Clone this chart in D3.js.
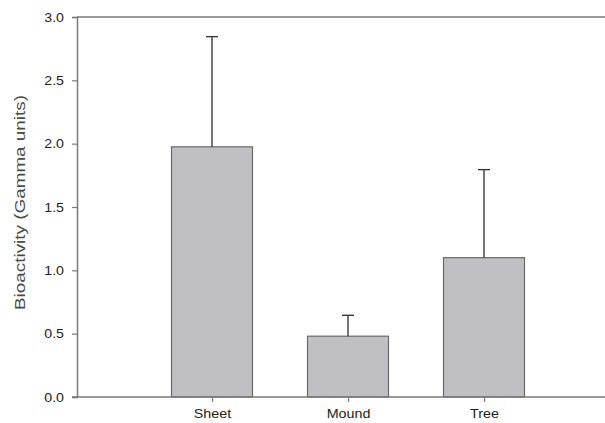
<!DOCTYPE html>
<html>
<head>
<meta charset="utf-8">
<script src="https://cdn.jsdelivr.net/npm/d3@7"></script>
<style>
  html, body { margin: 0; padding: 0; background: #fff; }
  svg { display: block; }
  text { font-family: "Liberation Sans", Arial, sans-serif; }
</style>
</head>
<body>
<svg id="chart" width="605" height="423"></svg>
<script>
// Mean bioactivity per colony type, with upper error (mean + SD)
const categories = ["Sheet", "Mound", "Tree"];
const means = [1.975, 0.48, 1.10];
const errorTops = [2.845, 0.645, 1.795];
const yTicks = [0.0, 0.5, 1.0, 1.5, 2.0, 2.5, 3.0];

const W = 605, H = 423;
const plotLeft = 77, plotTop = 17, plotBottom = 397;

const svg = d3.select("#chart");

// categories sit at positions 1..3 on a linear axis
const x = d3.scaleLinear().domain([0, 1]).range([76, 212]);
const y = d3.scaleLinear().domain([0, 3]).range([plotBottom, plotTop]);
const barW = 81;

const axisColor = "#7a7a7a";

// widen glyph runs slightly, like the wide sans used for the labels
function widen(sel, k) {
  sel.each(function () {
    const len = this.getComputedTextLength();
    d3.select(this).attr("textLength", len * k).attr("lengthAdjust", "spacingAndGlyphs");
  });
}

// bars
svg.append("g").selectAll("rect")
  .data(categories)
  .join("rect")
  .attr("x", (d, i) => x(i + 1) - barW / 2)
  .attr("y", (d, i) => y(means[i]))
  .attr("width", barW)
  .attr("height", (d, i) => y(0) - y(means[i]))
  .attr("fill", "#c0c0c4")
  .attr("stroke", "#6a6a6a")
  .attr("stroke-width", 1.2);

// error bars (upper only)
const eb = svg.append("g").attr("stroke", "#3a3a3a").attr("stroke-width", 1.4);
eb.selectAll("line.stem")
  .data(categories)
  .join("line")
  .attr("class", "stem")
  .attr("x1", (d, i) => x(i + 1)).attr("x2", (d, i) => x(i + 1))
  .attr("y1", (d, i) => y(means[i])).attr("y2", (d, i) => y(errorTops[i]));
eb.selectAll("line.cap")
  .data(categories)
  .join("line")
  .attr("class", "cap")
  .attr("x1", (d, i) => x(i + 1) - 6).attr("x2", (d, i) => x(i + 1) + 6)
  .attr("y1", (d, i) => y(errorTops[i])).attr("y2", (d, i) => y(errorTops[i]));

// top frame line runs to the edge
svg.append("line")
  .attr("x1", plotLeft).attr("x2", W).attr("y1", y(3)).attr("y2", y(3))
  .attr("stroke", axisColor).attr("stroke-width", 1.5);

// y axis
const yAxis = d3.axisLeft(y).tickValues(yTicks).tickFormat(d3.format(".1f")).tickSize(5).tickPadding(8);
const gy = svg.append("g").attr("transform", `translate(${plotLeft},0)`).call(yAxis);
gy.select(".domain").attr("stroke", axisColor).attr("stroke-width", 1.5);
gy.selectAll(".tick line").attr("stroke", axisColor).attr("stroke-width", 1.2);
gy.selectAll(".tick text").attr("font-size", 13.5).attr("fill", "#222").call(widen, 1.05);

// x axis
const xAxis = d3.axisBottom(x).tickValues([1, 2, 3]).tickFormat(d => categories[d - 1]).tickSize(5).tickPadding(7);
const gx = svg.append("g").attr("transform", `translate(0,${plotBottom})`).call(xAxis);
gx.select(".domain").remove();
gx.append("line").attr("x1", plotLeft - 5).attr("x2", W).attr("y1", 0).attr("y2", 0)
  .attr("stroke", axisColor).attr("stroke-width", 1.5);
gx.selectAll(".tick line").attr("stroke", axisColor).attr("stroke-width", 1.2);
gx.selectAll(".tick text").attr("font-size", 13).attr("fill", "#222").call(widen, 1.1);

// y axis title
svg.append("text")
  .attr("transform", `translate(25,202.5) rotate(-90)`)
  .attr("text-anchor", "middle")
  .attr("font-size", 15.5)
  .attr("fill", "#4a4a4a")
  .text("Bioactivity (Gamma units)")
  .attr("textLength", 215)
  .attr("lengthAdjust", "spacingAndGlyphs");
</script>
</body>
</html>
